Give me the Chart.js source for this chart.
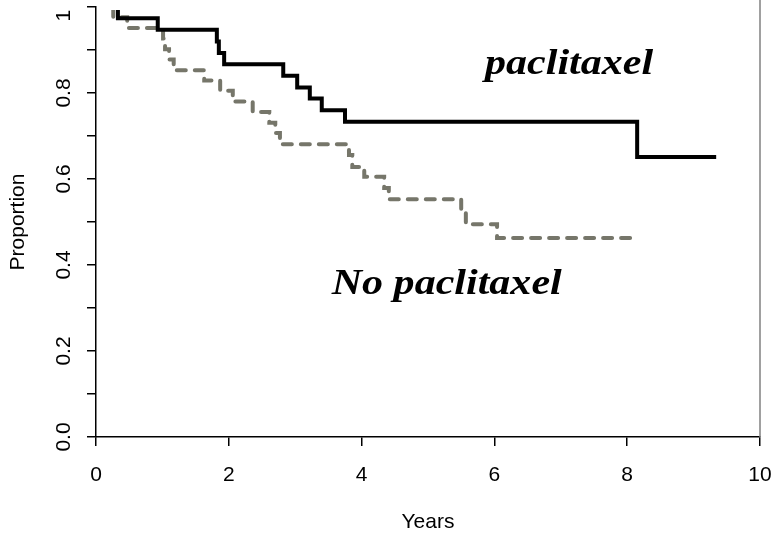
<!DOCTYPE html>
<html>
<head>
<meta charset="utf-8">
<script src="https://cdn.jsdelivr.net/npm/chart.js@4.4.0/dist/chart.umd.min.js"></script>
<style>
html,body{margin:0;padding:0;background:#fff;}
#wrap{width:775px;height:541px;position:relative;}
</style>
</head>
<body>
<div id="wrap"><canvas id="c" width="775" height="541"></canvas></div>
<script>
// ---- data ----
const paclitaxelYears    = [0, 0.33, 0.93, 1.82, 1.85, 1.93, 2.82, 3.03, 3.22, 3.40, 3.75, 8.15, 9.34];
const paclitaxelSurvival = [1.0, 0.974, 0.947, 0.920, 0.893, 0.867, 0.840, 0.813, 0.787, 0.760, 0.733, 0.651, 0.651];

const noPaclitaxelYears    = [0, 0.26, 0.47, 1.01, 1.04, 1.10, 1.17, 1.63, 1.87, 2.06, 2.36, 2.61, 2.70, 2.77, 3.81, 3.86, 4.04, 4.34, 4.41, 5.50, 5.57, 6.04, 8.09];
const noPaclitaxelSurvival = [1.0, 0.976, 0.951, 0.927, 0.902, 0.878, 0.853, 0.829, 0.805, 0.780, 0.756, 0.731, 0.707, 0.681, 0.656, 0.628, 0.605, 0.579, 0.553, 0.526, 0.495, 0.463, 0.463];

const xTickValues = [0, 2, 4, 6, 8, 10];
const yTickValues = [0, 0.1, 0.2, 0.3, 0.4, 0.5, 0.6, 0.7, 0.8, 0.9, 1.0];
const yTickLabels = ['0.0', '', '0.2', '', '0.4', '', '0.6', '', '0.8', '', '1'];
const seriesNames = ['paclitaxel', 'No paclitaxel'];
const xAxisTitle = 'Years';
const yAxisTitle = 'Proportion';

const toPoints = (xs, ys) => xs.map((x, i) => ({x: x, y: ys[i]}));

const sansFont = '"Liberation Sans", Arial, sans-serif';

// frame line on the right side of the plot
const rightFrame = {
  id: 'rightFrame',
  afterDraw(chart) {
    const {ctx, chartArea} = chart;
    ctx.save();
    ctx.strokeStyle = '#808080';
    ctx.lineWidth = 1.5;
    ctx.beginPath();
    ctx.moveTo(chartArea.right, 0);
    ctx.lineTo(chartArea.right, chartArea.bottom);
    ctx.stroke();
    ctx.restore();
  }
};

// series name labels placed in data coordinates
const seriesText = {
  id: 'seriesText',
  afterDatasetsDraw(chart) {
    const {ctx, scales} = chart;
    const items = [
      {text: seriesNames[0], x: 5.86, y: 0.845, w: 168},
      {text: seriesNames[1], x: 3.55, y: 0.333, w: 230}
    ];
    ctx.save();
    ctx.fillStyle = '#000';
    ctx.font = 'italic bold 35px "Liberation Serif", "Times New Roman", serif';
    ctx.textBaseline = 'alphabetic';
    ctx.textAlign = 'left';
    items.forEach(it => {
      const px = scales.x.getPixelForValue(it.x);
      const py = scales.y.getPixelForValue(it.y);
      const m = ctx.measureText(it.text).width;
      ctx.save();
      ctx.translate(px, py);
      ctx.scale(it.w / m, 1);
      ctx.fillText(it.text, 0, 0);
      ctx.restore();
    });
    ctx.restore();
  }
};

new Chart(document.getElementById('c'), {
  type: 'line',
  data: {
    datasets: [
      {
        label: seriesNames[0],
        data: toPoints(paclitaxelYears, paclitaxelSurvival),
        borderColor: '#000000',
        borderWidth: 4,
        stepped: true,
        pointRadius: 0,
        fill: false,
        order: 0,
        clip: {left: 5, top: -3, right: 5, bottom: 5}
      },
      {
        label: seriesNames[1],
        data: toPoints(noPaclitaxelYears, noPaclitaxelSurvival),
        borderColor: '#76766a',
        borderWidth: 4,
        borderDash: [9, 9],
        borderCapStyle: 'round',
        stepped: true,
        pointRadius: 0,
        fill: false,
        order: 1,
        clip: {left: 5, top: -3, right: 5, bottom: 5}
      }
    ]
  },
  options: {
    responsive: false,
    devicePixelRatio: 1,
    animation: false,
    layout: {padding: {left: 0, top: 7, right: 15, bottom: 0}},
    plugins: {legend: {display: false}, tooltip: {enabled: false}},
    scales: {
      x: {
        type: 'linear',
        min: 0, max: 10,
        afterFit(s) { s.height = 104; s.paddingLeft = 0; s.paddingRight = 0; },
        afterBuildTicks(s) { s.ticks = xTickValues.map(v => ({value: v})); },
        grid: {display: true, drawOnChartArea: false, drawTicks: true, tickLength: 9, color: '#000', lineWidth: 1.5},
        border: {display: true, color: '#000', width: 1.5},
        ticks: {
          autoSkip: false, maxRotation: 0, minRotation: 0,
          padding: 17, color: '#000',
          font: {family: sansFont, size: 21},
          callback: v => String(v)
        },
        title: {display: true, text: xAxisTitle, color: '#000', font: {family: sansFont, size: 21}, padding: {top: 0, bottom: 6}}
      },
      y: {
        type: 'linear',
        min: 0, max: 1,
        afterFit(s) { s.width = 96; s.paddingTop = 0; s.paddingBottom = 0; },
        afterBuildTicks(s) { s.ticks = yTickValues.map(v => ({value: v})); },
        grid: {display: true, drawOnChartArea: false, drawTicks: true, tickLength: 9, color: '#000', lineWidth: 1.5},
        border: {display: true, color: '#000', width: 1.5},
        ticks: {
          autoSkip: false, minRotation: 90, maxRotation: 90,
          crossAlign: 'center',
          padding: 8, color: '#000',
          font: {family: sansFont, size: 21},
          // the top label sits a little lower in the reference; trailing spaces nudge it down
          callback: (v, i) => (i === yTickLabels.length - 1 ? yTickLabels[i] + '   ' : yTickLabels[i])
        },
        title: {display: true, text: yAxisTitle, color: '#000', font: {family: sansFont, size: 21}, padding: {top: 6, bottom: 0}}
      }
    }
  },
  plugins: [rightFrame, seriesText]
});
</script>
</body>
</html>
